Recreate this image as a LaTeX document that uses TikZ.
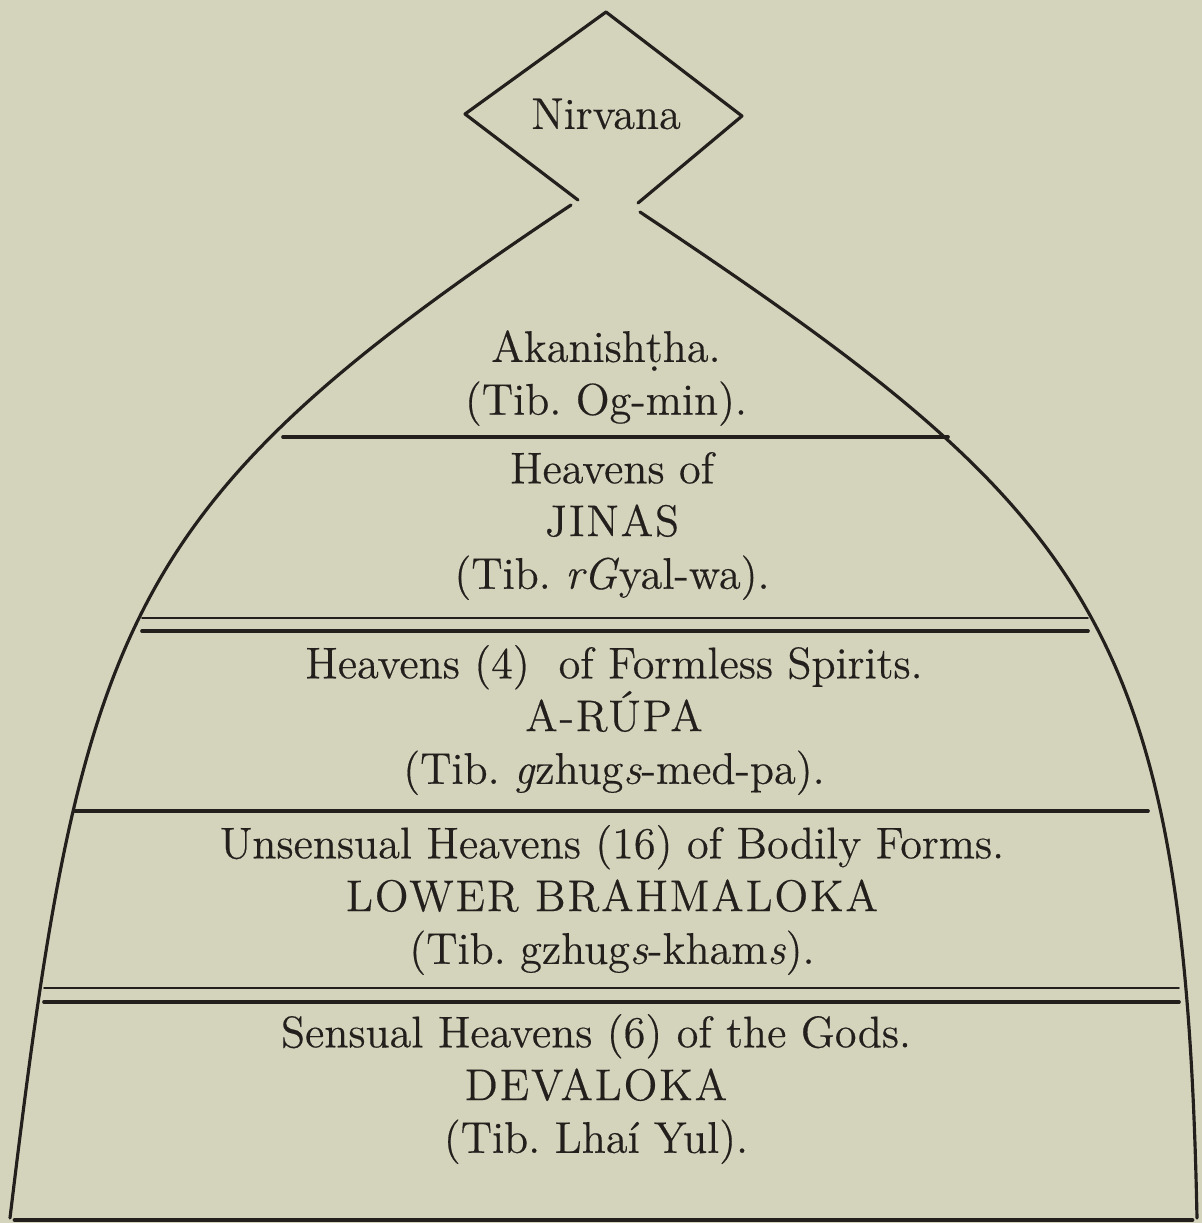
\documentclass[tikz,border=0pt]{standalone}
\usepackage{fontspec}
\setmainfont{Latin Modern Roman}[FakeBold=0.4]
\usepackage{tikz}
\usetikzlibrary{positioning}
\definecolor{paperColor}{HTML}{D4D4BC}
\definecolor{inkColor}{HTML}{221F1D}
\newcommand{\spaced}[1]{{\addfontfeature{LetterSpace=4}#1}}
\frenchspacing

\begin{document}
\begin{tikzpicture}[x=0.01cm, y=-0.01cm, line cap=round, line join=round,
    every node/.style={text=inkColor, align=center, font=\fontsize{12.6}{15}\selectfont},
    outline/.style={draw=inkColor, line width=0.9pt},
    rule/.style={draw=inkColor, line width=1.05pt},
    hairrule/.style={draw=inkColor, line width=0.45pt}]
    % Papel
    \fill[paperColor] (0,0) rectangle (1202,1223);
    \useasboundingbox (0,0) rectangle (1202,1223);

    % Nirvana
    \node (nirvana) at (606,114) {Nirvana};
    \draw[outline] (578,200) -- (465,114) -- (606,12) -- (742,116) -- (638,203);

    % Cupula
    \draw[outline] (571,205) .. controls (121,505) and (82,618) .. (10,1218);
    \draw[outline] (640,212) .. controls (1090,512) and (1185,618) .. (1197,1218);

    % Divisiones
    \draw[rule] (283,437) -- (948,437);
    \draw[hairrule] (142,618) -- (1088,618);
    \draw[rule] (142,631) -- (1088,631);
    \draw[rule] (75,811) -- (1148,811);
    \draw[hairrule] (44,988) -- (1179,988);
    \draw[rule] (44,1002) -- (1179,1002);
    \draw[rule, line width=1.4pt] (15,1220) -- (1192,1220);

    % Cielos
    \node (akanishtha) at (606,378) {Akanish\d{t}ha.\\(Tib. Og-min).};
    \node (jinas) at (612,526) {Heavens of\\\spaced{JINAS}\\(Tib. \textit{rG}yal-wa).};
    \node (arupa) at (614,720) {Heavens (4)\ \ of Formless Spirits.\\\spaced{A-R\'{U}PA}\\(Tib. \textit{g}zhug\textit{s}-med-pa).};
    \node (brahmaloka) at (612,900) {Unsensual Heavens (16) of Bodily Forms.\\\spaced{LOWER BRAHMALOKA}\\(Tib. gzhug\textit{s}-kham\textit{s}).};
    \node (devaloka) at (596,1089) {Sensual Heavens (6) of the Gods.\\\spaced{DEVALOKA}\\(Tib. Lha\'{\i} Yul).};
\end{tikzpicture}
\end{document}
